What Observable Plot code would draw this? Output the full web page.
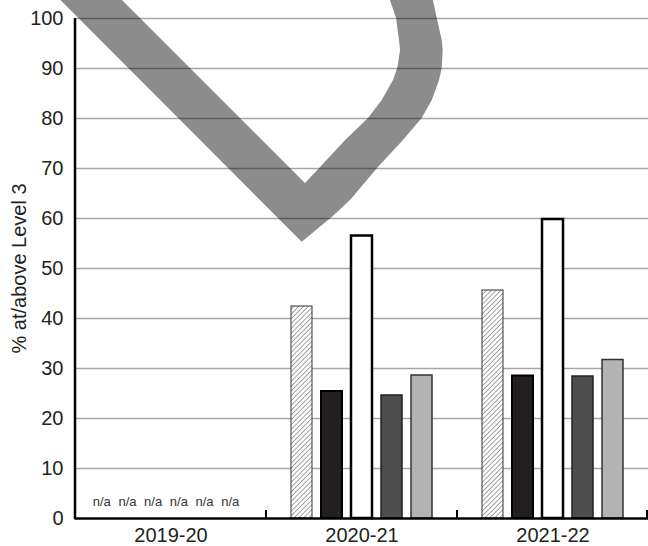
<!DOCTYPE html>
<html>
<head>
<meta charset="utf-8">
<script src="https://cdn.jsdelivr.net/npm/d3@7"></script>
<script src="https://cdn.jsdelivr.net/npm/@observablehq/plot@0.6"></script>
<style>
  html, body { margin: 0; padding: 0; background: #fff; }
  #chart { width: 648px; height: 546px; overflow: hidden; }
</style>
</head>
<body>
<div id="chart"></div>
<script>
// ---- data ----
const years = ["2019-20", "2020-21", "2021-22"];
const seriesNames = ["Series 1", "Series 2", "Series 3", "Series 4", "Series 5"];
const values2019 = [null, null, null, null, null];
const values2020 = [42.4, 25.4, 56.5, 24.6, 28.6];
const values2021 = [45.6, 28.5, 59.8, 28.4, 31.7];
const yTicks = [0, 10, 20, 30, 40, 50, 60, 70, 80, 90, 100];
const naLabels = ["n/a", "n/a", "n/a", "n/a", "n/a", "n/a"];
const yLabel = "% at/above Level 3";

// decorative watermark outline: [fraction of a year band from left of first band, % value]
const watermarkOutline = [
  [-0.181, 107.6], [1.187, 55.26],
  [1.344, 60.2], [1.440, 63.6], [1.586, 70.2], [1.717, 75.6], [1.815, 80.0],
  [1.868, 83.6], [1.906, 87.6], [1.920, 90.0], [1.925, 93.6], [1.920, 95.6],
  [1.894, 100.0], [1.874, 103.6], [1.859, 106.0],
  [1.634, 106.0], [1.649, 103.6], [1.681, 100.0], [1.696, 95.6], [1.702, 93.6],
  [1.687, 90.0], [1.665, 87.6], [1.606, 83.6], [1.534, 80.0], [1.414, 75.6],
  [1.283, 70.2], [1.204, 67.0],
  [0.141, 107.6]
];

// ---- styles ----
const seriesStyles = [
  {fill: "url(#hatch)", stroke: "#333", strokeWidth: 1},
  {fill: "#231f20", stroke: "#000", strokeWidth: 2},
  {fill: "#ffffff", stroke: "#000", strokeWidth: 2.5},
  {fill: "#4d4d4d", stroke: "#222", strokeWidth: 1.5},
  {fill: "#b3b3b3", stroke: "#333", strokeWidth: 1.5}
];

const valuesByYear = [values2019, values2020, values2021];
const data = years.flatMap((yr, i) =>
  seriesNames.map((s, j) => ({year: yr, series: s, value: valuesByYear[i][j]}))
).filter(d => d.value != null);

const chart = Plot.plot({
  width: 648,
  height: 546,
  marginLeft: 75,
  marginRight: 0,
  marginTop: 18,
  marginBottom: 28,
  style: {fontFamily: "'Liberation Sans', Arial, sans-serif", fontSize: "20px", color: "#231f20", background: "#fff"},
  fx: {domain: years, padding: 0, label: null, axis: "bottom", tickSize: 0, tickPadding: 9},
  x: {domain: seriesNames, axis: null, paddingInner: 0.29, paddingOuter: 0.727},
  y: {domain: [0, 100], ticks: yTicks, tickSize: 0, tickPadding: 12, label: null},
  marks: [
    Plot.ruleY(yTicks.filter(t => t > 0), {y: d => d, stroke: "#a6a6a6", strokeWidth: 1.5}),
    ...seriesNames.map((s, j) =>
      Plot.barY(data.filter(d => d.series === s), {
        fx: "year", x: "series", y: "value",
        fill: seriesStyles[j].fill, stroke: seriesStyles[j].stroke, strokeWidth: seriesStyles[j].strokeWidth
      })
    ),
    Plot.text([naLabels.join(" ")], {
      fx: () => years[0], text: d => d, frameAnchor: "bottom", dy: -13, dx: -5,
      fontSize: 13, fill: "#333"
    }),
    Plot.text([yLabel], {
      fx: () => years[0], text: d => d, frameAnchor: "left", textAnchor: "middle", rotate: -90,
      fontSize: 20, fill: "#231f20"
    }),
    Plot.ruleY([0], {stroke: "#000", strokeWidth: 2.5})
  ]
});

document.getElementById("chart").appendChild(chart);

// ---- post-processing: pattern, axis line, group separators, watermark ----
const svg = d3.select(chart);
const defs = svg.insert("defs", ":first-child");
const pat = defs.append("pattern")
  .attr("id", "hatch").attr("patternUnits", "userSpaceOnUse")
  .attr("width", 3.4).attr("height", 3.4)
  .attr("patternTransform", "rotate(45)");
pat.append("rect").attr("width", 3.4).attr("height", 3.4).attr("fill", "#fff");
pat.append("line").attr("x1", 0).attr("y1", 0).attr("x2", 0).attr("y2", 3.4)
  .attr("stroke", "#333").attr("stroke-width", 0.9);

svg.selectAll("text").filter(function() { return this.textContent.startsWith("n/a"); })
  .style("word-spacing", "4px");

const fx = chart.scale("fx");
const y = chart.scale("y");
const x0 = fx.apply(years[0]);
const yc = (y.apply(0) + y.apply(100)) / 2;

// place the rotated y-axis title left of the axis, centred on the plot height
svg.selectAll("text").filter(function() { return this.textContent === yLabel; })
  .attr("dx", null).attr("dy", "0.32em")
  .attr("text-anchor", "middle")
  .attr("transform", `translate(${x0 - 62},${yc}) rotate(-90)`);

const over = svg.append("g");

// y axis line
over.append("line")
  .attr("x1", x0).attr("x2", x0)
  .attr("y1", y.apply(100)).attr("y2", y.apply(0) + 1.25)
  .attr("stroke", "#000").attr("stroke-width", 2.5);

// group separator ticks
years.forEach(yr => {
  const xe = Math.min(fx.apply(yr) + fx.bandwidth, 648 - 1);
  over.append("line")
    .attr("x1", xe).attr("x2", xe)
    .attr("y1", y.apply(0) - 8).attr("y2", y.apply(0))
    .attr("stroke", "#000").attr("stroke-width", 2);
});

// watermark
const line = d3.line().x(p => x0 + p[0] * fx.bandwidth).y(p => y.apply(p[1]));
over.append("path")
  .attr("d", line(watermarkOutline) + "Z")
  .attr("fill", "#000").attr("fill-opacity", 0.45);
</script>
</body>
</html>
